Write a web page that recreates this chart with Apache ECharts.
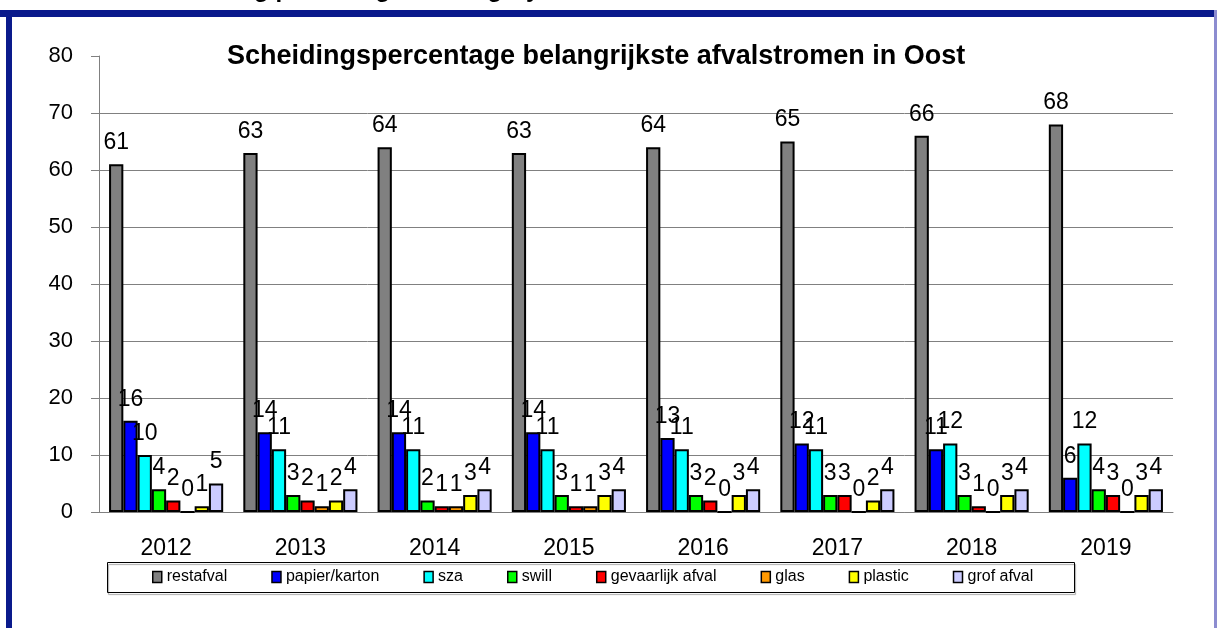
<!DOCTYPE html>
<html>
<head>
<meta charset="utf-8">
<script src="https://cdn.jsdelivr.net/npm/echarts@6/dist/echarts.min.js"></script>
<style>
  html, body { margin: 0; padding: 0; background: #fff; }
  #chart { width: 1217px; height: 628px; }
</style>
</head>
<body>
<div id="chart"></div>
<script>
// jaren
var years = ["2012", "2013", "2014", "2015", "2016", "2017", "2018", "2019"];
// scheidingspercentages per afvalstroom
var restafval = [61, 63, 64, 63, 64, 65, 66, 68];
var papierKarton = [16, 14, 14, 14, 13, 12, 11, 6];
var sza = [10, 11, 11, 11, 11, 11, 12, 12];
var swill = [4, 3, 2, 3, 3, 3, 3, 4];
var gevaarlijkAfval = [2, 2, 1, 1, 2, 3, 1, 3];
var glas = [0, 1, 1, 1, 0, 0, 0, 0];
var plastic = [1, 2, 3, 3, 3, 2, 3, 3];
var grofAfval = [5, 4, 4, 4, 4, 4, 4, 4];
var yTicks = [0, 10, 20, 30, 40, 50, 60, 70, 80];

var seriesNames = ["restafval", "papier/karton", "sza", "swill", "gevaarlijk afval", "glas", "plastic", "grof afval"];
var seriesData = [restafval, papierKarton, sza, swill, gevaarlijkAfval, glas, plastic, grofAfval];
var seriesColors = ["#808080", "#0000ff", "#00ffff", "#00ff00", "#ff0000", "#ff9900", "#ffff00", "#ccccff"];

var fontFam = "Liberation Sans, Arial, sans-serif";

var series = seriesNames.map(function (name, i) {
  return {
    name: name,
    type: "bar",
    data: seriesData[i],
    barGap: "0%",
    barCategoryGap: "15%",
    itemStyle: { color: seriesColors[i], borderColor: "#000", borderWidth: 2 },
    label: {
      show: true,
      position: "top",
      distance: 10,
      color: "#000",
      fontSize: 23,
      fontFamily: fontFam
    },
    emphasis: { disabled: true },
    animation: false
  };
});

var chart = echarts.init(document.getElementById("chart"));
var option = {
  backgroundColor: "#fff",
  animation: false,
  title: {
    text: "Scheidingspercentage belangrijkste afvalstromen in Oost",
    left: 222,
    top: 38,
    textStyle: { fontSize: 27, fontWeight: "bold", color: "#000", fontFamily: fontFam }
  },
  grid: { left: 99, right: 44, top: 56, bottom: 116 },
  legend: {
    data: seriesNames,
    left: 152,
    top: 569,
    itemWidth: 9,
    itemHeight: 11,
    itemGap: 44,
    padding: 0,
    icon: "rect",
    itemStyle: { borderColor: "#000", borderWidth: 1.5 },
    textStyle: { fontSize: 16, color: "#000", fontFamily: fontFam }
  },
  xAxis: {
    type: "category",
    data: years,
    axisLine: { lineStyle: { color: "#808080", width: 1 } },
    axisTick: { length: 9, lineStyle: { color: "#808080" } },
    axisLabel: { color: "#000", fontSize: 23, margin: 25, fontFamily: fontFam }
  },
  yAxis: {
    type: "value",
    min: yTicks[0],
    max: yTicks[yTicks.length - 1],
    interval: 10,
    axisLine: { show: true, lineStyle: { color: "#808080", width: 1 } },
    axisTick: { show: true, length: 8, lineStyle: { color: "#808080" } },
    axisLabel: { color: "#000", fontSize: 22, margin: 26, fontFamily: fontFam },
    splitLine: { show: true, showMaxLine: false, lineStyle: { color: "#808080", width: 1 } }
  },
  graphic: [
    // afgesneden koptekst boven het kader
    {
      type: "text",
      left: 98,
      top: -22,
      style: { text: "Afvalscheiding percentage of category", fontSize: 24, fontWeight: "bold", fill: "#000", fontFamily: fontFam },
      z: 0
    },
    // kader
    { type: "rect", shape: { x: 0, y: 10, width: 1217, height: 7 }, style: { fill: "#0a1a8c" }, z: 10 },
    { type: "rect", shape: { x: 6, y: 10, width: 6, height: 618 }, style: { fill: "#0a1a8c" }, z: 10 },
    { type: "rect", shape: { x: 1214, y: 10, width: 3, height: 618 }, style: { fill: "#8c8cd0" }, z: 10 },
    // legendakader
    {
      type: "rect",
      shape: { x: 107.5, y: 562.5, width: 967, height: 30 },
      style: { fill: "none", stroke: "#000", lineWidth: 1, shadowColor: "rgba(0,0,0,0.35)", shadowOffsetX: 1, shadowOffsetY: 2, shadowBlur: 1 },
      z: 1
    }
  ],
  series: series
};
chart.setOption(option);
</script>
</body>
</html>
